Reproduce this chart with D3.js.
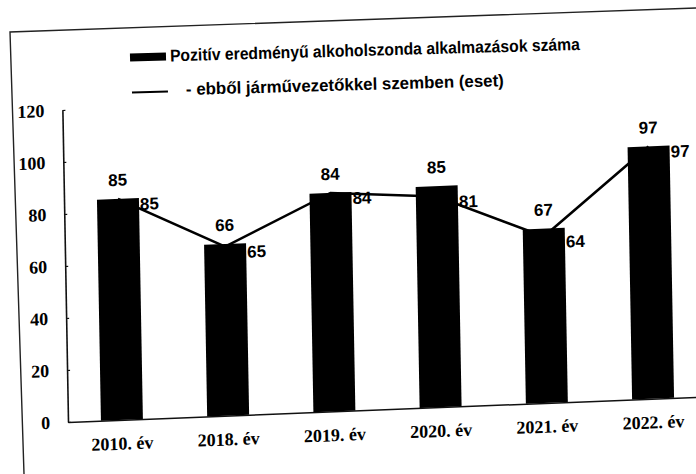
<!DOCTYPE html>
<html>
<head>
<meta charset="utf-8">
<script src="https://cdn.jsdelivr.net/npm/d3@7"></script>
<style>
  html, body { margin: 0; padding: 0; background: #fff; }
  svg { display: block; }
</style>
</head>
<body>
<script>
// ---- data ----
const categories = ["2010. év", "2018. év", "2019. év", "2020. év", "2021. év", "2022. év"];
const barValues  = [85, 66, 84, 85, 67, 97];
const lineValues = [85, 65, 84, 81, 64, 97];
const yTicks     = [0, 20, 40, 60, 80, 100, 120];
const barSeriesName  = "Pozitív eredményű alkoholszonda alkalmazások száma";
const lineSeriesName = "- ebből járművezetőkkel szemben  (eset)";

// ---- layout ----
const W = 696, H = 474;
const svg = d3.select("body").append("svg").attr("width", W).attr("height", H);
svg.append("rect").attr("width", W).attr("height", H).attr("fill", "#fff");

// outer frame (scanned page border)
svg.append("path")
  .attr("d", "M696,8 L10,32 L24,474")
  .attr("fill", "none").attr("stroke", "#222").attr("stroke-width", 1.4);

// chart group, slightly skewed like the scan
const g = svg.append("g")
  .attr("transform", "translate(68,422) matrix(1,-0.04,0.018,1,0,0)");

const x = d3.scaleBand().domain(categories).range([0, 639])
  .paddingInner(0.605).paddingOuter(0.31);
const y = d3.scaleLinear().domain([0, 120]).range([0, -312]);

// y axis
const yAxis = g.append("g")
  .call(d3.axisLeft(y).tickValues(yTicks).tickSizeInner(-3).tickSizeOuter(0).tickPadding(18));
yAxis.select(".domain").attr("stroke", "#111").attr("stroke-width", 1.6);
yAxis.selectAll(".tick line").attr("stroke", "#111").attr("stroke-width", 1.2);
yAxis.selectAll(".tick text")
  .attr("fill", "#000")
  .style("font-family", "'Liberation Serif', 'DejaVu Serif', serif")
  .style("font-weight", "bold")
  .style("font-size", "18px");

// x axis
const xAxis = g.append("g")
  .call(d3.axisBottom(x).tickSize(0).tickPadding(17));
xAxis.select(".domain").attr("stroke", "#111").attr("stroke-width", 1.5);
xAxis.selectAll(".tick text")
  .attr("fill", "#000")
  .style("font-family", "'Liberation Serif', 'DejaVu Serif', serif")
  .style("font-weight", "bold")
  .style("font-size", "18px");

// line series (drawn behind the bars)
const line = d3.line()
  .x((d, i) => x(categories[i]) + x.bandwidth() / 2)
  .y(d => y(d));
g.append("path")
  .datum(lineValues)
  .attr("d", line)
  .attr("fill", "none")
  .attr("stroke", "#000")
  .attr("stroke-width", 2.6);

// bars
g.selectAll("rect.bar")
  .data(barValues)
  .join("rect")
  .attr("class", "bar")
  .attr("x", (d, i) => x(categories[i]))
  .attr("width", x.bandwidth())
  .attr("y", d => y(d))
  .attr("height", d => y(0) - y(d))
  .attr("fill", "#000");

const labelFont = "'Liberation Sans', Arial, sans-serif";

// bar value labels
g.selectAll("text.barlab")
  .data(barValues)
  .join("text")
  .attr("class", "barlab")
  .attr("x", (d, i) => x(categories[i]) + x.bandwidth() / 2)
  .attr("y", d => y(d) - 13)
  .attr("text-anchor", "middle")
  .style("font-family", labelFont)
  .style("font-weight", "bold")
  .style("font-size", "17px")
  .text(d => d);

// line value labels (right of point, at the bar edge)
g.selectAll("text.linelab")
  .data(lineValues)
  .join("text")
  .attr("class", "linelab")
  .attr("x", (d, i) => x(categories[i]) + x.bandwidth() + 1)
  .attr("y", d => y(d) + 6)
  .attr("dy", "0.35em")
  .style("font-family", labelFont)
  .style("font-weight", "bold")
  .style("font-size", "17px")
  .text(d => d);

// legend
const lg = svg.append("g").attr("transform", "rotate(-1.6,148,57)");
lg.append("rect").attr("x", 130).attr("y", 53).attr("width", 36).attr("height", 8).attr("fill", "#000");
lg.append("text").attr("x", 170).attr("y", 62)
  .attr("textLength", 410).attr("lengthAdjust", "spacingAndGlyphs")
  .style("font-family", labelFont).style("font-weight", "bold").style("font-size", "17px")
  .text(barSeriesName);
lg.append("line").attr("x1", 131).attr("x2", 167).attr("y1", 92).attr("y2", 92)
  .attr("stroke", "#000").attr("stroke-width", 2);
lg.append("text").attr("x", 185).attr("y", 96)
  .attr("textLength", 318).attr("lengthAdjust", "spacingAndGlyphs")
  .style("font-family", labelFont).style("font-weight", "bold").style("font-size", "17px")
  .text(lineSeriesName);
</script>
</body>
</html>
